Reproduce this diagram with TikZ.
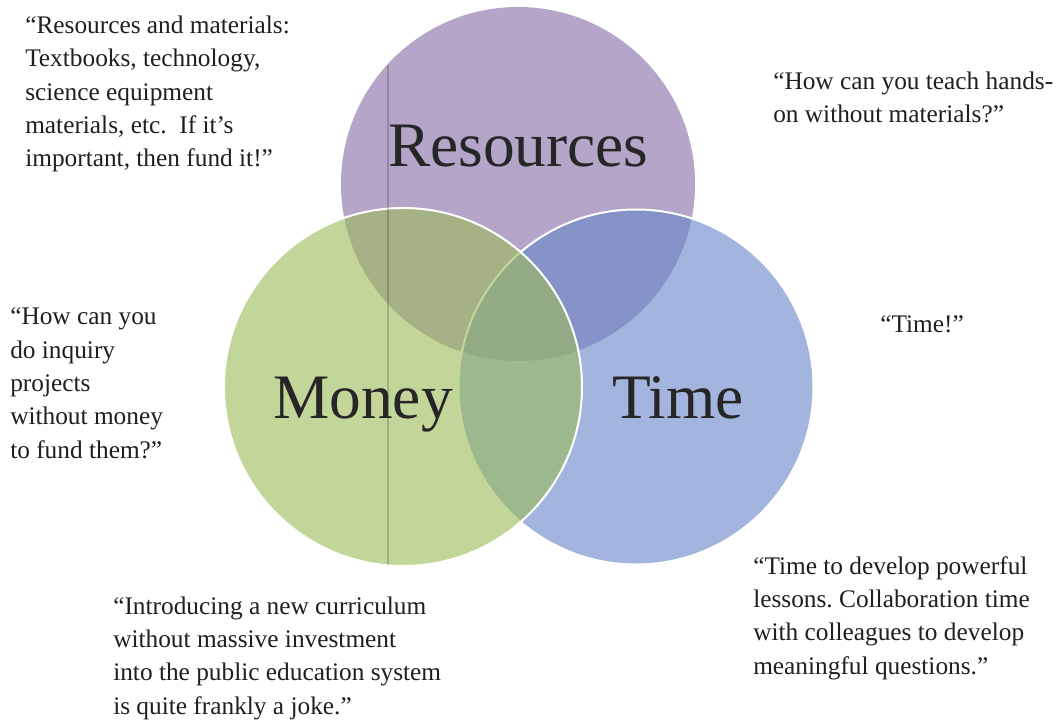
\documentclass[tikz,border=0pt]{standalone}
\usepackage{fontspec}
\setmainfont{Liberation Serif}
\frenchspacing
\definecolor{respurple}{RGB}{131,105,165}
\definecolor{timeblue}{RGB}{107,136,202}
\definecolor{moneygreen}{RGB}{155,187,88}
\begin{document}
\begin{tikzpicture}[x=0.75pt,y=-0.75pt,
  quote/.style={font=\fontsize{19}{25}\selectfont, align=left, anchor=base west, inner sep=0pt, text=black!88},
  biglabel/.style={font=\fontsize{47.5}{50}\selectfont, anchor=base west, inner sep=0pt, text=black!85},
  venn/.style={circle, inner sep=0pt, fill opacity=0.6}]
\useasboundingbox (0,0) rectangle (1059,723);
\fill[white] (0,0) rectangle (1059,723);
% circles
\node[venn, fill=respurple, minimum size=265.5pt] (res) at (518,184) {};
\node[venn, fill=timeblue, fill opacity=0.62, draw=white, draw opacity=1, line width=1.5pt, minimum size=266.25pt] (time) at (636,387) {};
\node[venn, fill=moneygreen, draw=white, draw opacity=1, line width=1.5pt, minimum size=268.5pt] (money) at (403,387) {};
% stray vertical line
\coordinate (vtop) at (388,65);
\coordinate (vbot) at (388,565);
\draw[black, opacity=0.18, line width=0.8pt] (vtop) -- (vbot);
% big labels
\node[biglabel] (lres) at (388,167) {Resources};
\node[biglabel] (lmoney) at (273,418) {Money};
\node[biglabel] (ltime) at (612,418) {Time};
% quotes (anchored at baseline of last line)
\node[quote] (q1) at (25,167) {“Resources and materials:\\Textbooks, technology,\\science equipment\\materials, etc.\ \ If it’s\\important, then fund it!”};
\node[quote] (q2) at (773,123) {“How can you teach hands-\\on without materials?”};
\node[quote] (q3) at (10,458) {“How can you\\do inquiry\\projects\\without money\\to fund them?”};
\node[quote] (q4) at (880,333) {“Time!”};
\node[quote] (q5) at (113,714) {“Introducing a new curriculum\\without massive investment\\into the public education system\\is quite frankly a joke.”};
\node[quote] (q6) at (753,674) {“Time to develop powerful\\lessons. Collaboration time\\with colleagues to develop\\meaningful questions.”};
\end{tikzpicture}
\end{document}
